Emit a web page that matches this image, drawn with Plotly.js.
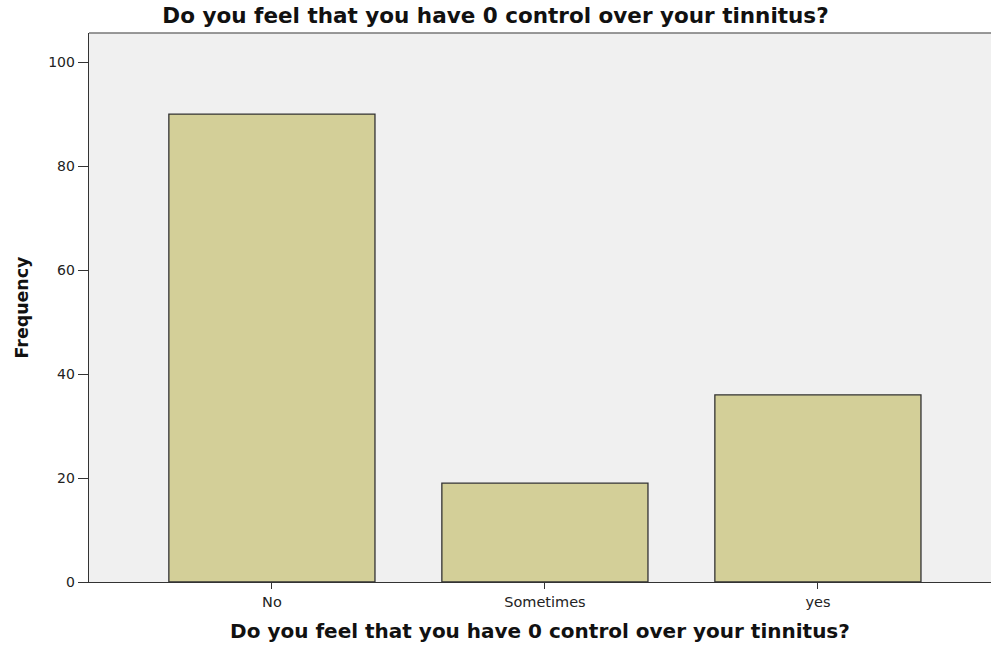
<!DOCTYPE html>
<html>
<head>
<meta charset="utf-8">
<script src="https://cdn.plot.ly/plotly-3.0.1.min.js"></script>
<style>html,body{margin:0;padding:0;background:#fff;}#chart{width:991px;height:647px;}</style>
</head>
<body>
<div id="chart"></div>
<script>
const categories = ["No", "Sometimes", "yes"];
const frequencies = [90, 19, 36];
const chartTitle = "Do you feel that you have 0 control over your tinnitus?";
const xTitle = "Do you feel that you have 0 control over your tinnitus?";
const yTitle = "Frequency";
const yTicks = [0, 20, 40, 60, 80, 100];

const trace = {
  type: "bar",
  x: [0, 1, 2],
  y: frequencies,
  width: 0.755,
  marker: {color: "#d3cf98", line: {color: "#333333", width: 1.3}},
  hoverinfo: "x+y"
};

const layout = {
  width: 991, height: 647,
  margin: {l: 89, r: 0, t: 33, b: 65},
  paper_bgcolor: "#ffffff",
  plot_bgcolor: "#f0f0f0",
  showlegend: false,
  title: {text: chartTitle, x: 0.5, xanchor: "center", y: 0.987, yanchor: "top",
          font: {family: "DejaVu Sans, Verdana, sans-serif", size: 21.5, color: "#111"}},
  xaxis: {
    range: [-0.67, 2.634],
    tickmode: "array", tickvals: [0, 1, 2], ticktext: categories,
    ticks: "outside", ticklen: 6, tickcolor: "#333", tickwidth: 1,
    showline: true, linecolor: "#333", linewidth: 1.3, mirror: false,
    showgrid: false, zeroline: false,
    tickfont: {family: "DejaVu Sans, Verdana, sans-serif", size: 14.5, color: "#222"},
    title: {text: xTitle, standoff: 15, font: {family: "DejaVu Sans, Verdana, sans-serif", size: 20, color: "#111"}}
  },
  yaxis: {
    range: [0, 105.6],
    tickmode: "array", tickvals: yTicks,
    ticks: "outside", ticklen: 10, tickcolor: "#333", tickwidth: 1,
    showline: true, linecolor: "#333", linewidth: 1.3,
    showgrid: false, zeroline: false,
    tickfont: {family: "DejaVu Sans, Verdana, sans-serif", size: 14, color: "#222"},
    title: {text: yTitle, standoff: 15, font: {family: "DejaVu Sans, Verdana, sans-serif", size: 17.4, color: "#111"}}
  },
  shapes: [{type: "line", xref: "paper", yref: "paper", x0: 0, x1: 1, y0: 1, y1: 1,
            line: {color: "#777", width: 1.5}}]
};

layout.title.text = "<b>" + chartTitle + "</b>";
layout.xaxis.title.text = "<b>" + xTitle + "</b>";
layout.yaxis.title.text = "<b>" + yTitle + "</b>";

Plotly.newPlot("chart", [trace], layout, {displayModeBar: false, staticPlot: true});
</script>
</body>
</html>
